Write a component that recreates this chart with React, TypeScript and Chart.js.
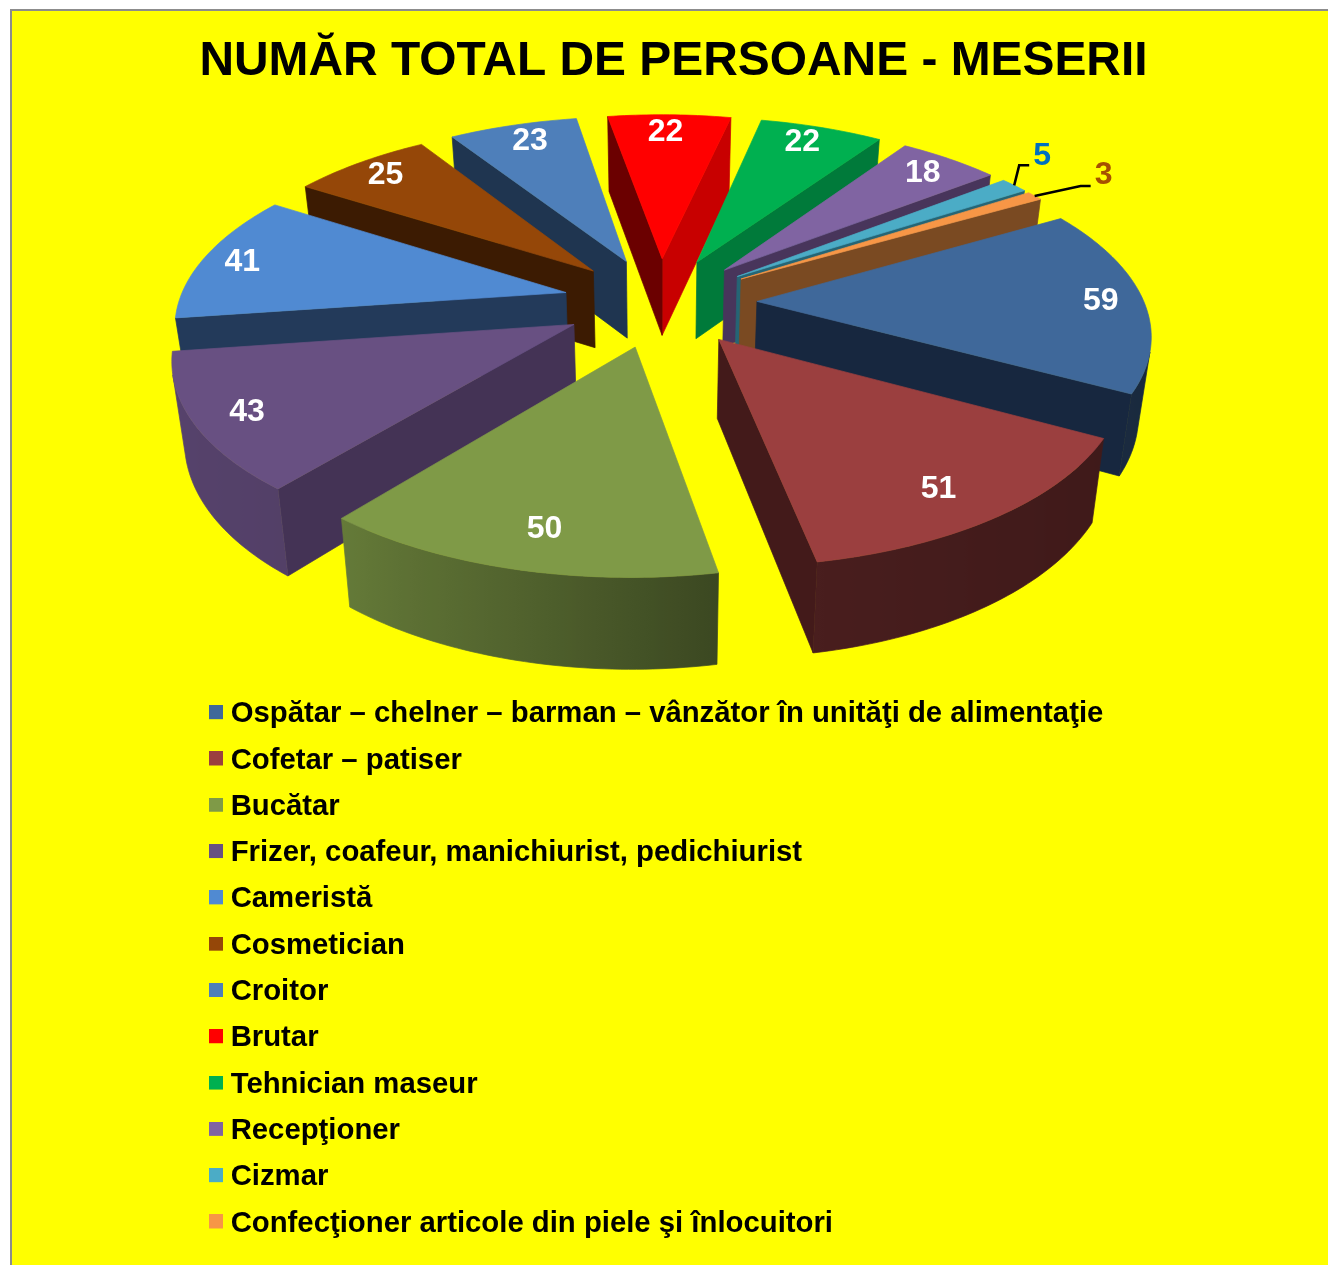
import React, { useEffect, useRef } from "react";
import { Chart, registerables } from "chart.js";

Chart.register(...registerables);

const categories = [
  "Ospătar – chelner – barman – vânzător în unităţi de alimentaţie",
  "Cofetar – patiser",
  "Bucătar",
  "Frizer, coafeur, manichiurist, pedichiurist",
  "Cameristă",
  "Cosmetician",
  "Croitor",
  "Brutar",
  "Tehnician maseur",
  "Recepţioner",
  "Cizmar",
  "Confecţioner articole din piele şi înlocuitori",
];
const values = [59, 51, 50, 43, 41, 25, 23, 22, 22, 18, 5, 3];
const topColors = ["#3F689A", "#9B3F3F", "#7F9A47", "#685082", "#508AD2", "#954708", "#4E7FBA", "#FF0000", "#00B050", "#8064A2", "#4BACC6", "#F79646"];
const startWallColors = ["#17273F", "#431A1A", "#404D25", "#443355", "#233A5A", "#3C1B02", "#1F3550", "#6B0000", "#007A3A", "#48355B", "#256575", "#7A4A22"];
const endWallColors = ["#17273F", "#431A1A", "#404D25", "#443355", "#233A5A", "#3C1B02", "#1F3550", "#C80000", "#007A3A", "#48355B", "#256575", "#7A4A22"];
const labelColors = ["#fff", "#fff", "#fff", "#fff", "#fff", "#fff", "#fff", "#fff", "#fff", "#fff", "#0070C0", "#A65000"];
const labelNudgeX = [8, -18, 13, 0, -9, -2, 4, -3, -5, 0, 0, 0];
const labelNudgeY = [2, -2, -6, 2, 1, 0, 0, 1, -1, 1, 0, 0];
const TITLE = "NUMĂR TOTAL DE PERSOANE - MESERII";

// scene geometry of the tilted, exploded pie
const EXPLODE = 97;
const TILT = 0.462;
const PERSPECTIVE = 0.000402;
const FOOT_SCALE = 0.974;
const LABEL_RADIUS = 0.87;
const FONT = "'Liberation Sans', Arial, sans-serif";

const SHADE_STOPS: [number, number][] = [
  [0, 0.38],
  [55, 0.43],
  [80, 0.47],
  [105, 0.65],
  [130, 0.8],
  [180, 0.85],
];

function depthAt(f: number) {
  return f > 1 ? 77 + 62 * (f - 1) : 77 + 13 * (f - 1);
}

function shadeAt(angleRad: number) {
  let d = Math.abs((angleRad * 180) / Math.PI) % 360;
  if (d > 180) d = 360 - d;
  for (let i = 1; i < SHADE_STOPS.length; i++) {
    const [a, s] = SHADE_STOPS[i - 1];
    const [b, t] = SHADE_STOPS[i];
    if (d <= b) return s + ((t - s) * (d - a)) / (b - a);
  }
  return 0.85;
}

function shadeColor(hex: string, k: number) {
  const n = parseInt(hex.slice(1), 16);
  const c = (v: number) => Math.round(v * k);
  return `rgb(${c((n >> 16) & 255)},${c((n >> 8) & 255)},${c(n & 255)})`;
}

function area(p: { x: number; y: number }[]) {
  let s = 0;
  p.forEach((a, i) => {
    const b = p[(i + 1) % p.length];
    s += a.x * b.y - b.x * a.y;
  });
  return s;
}

function fillPoly(ctx: CanvasRenderingContext2D, p: { x: number; y: number }[], color: any) {
  ctx.beginPath();
  p.forEach((a, i) => (i ? ctx.lineTo(a.x, a.y) : ctx.moveTo(a.x, a.y)));
  ctx.closePath();
  ctx.fillStyle = color;
  ctx.strokeStyle = color;
  ctx.lineWidth = 0.7;
  ctx.fill();
  ctx.stroke();
}

const pie3d = {
  id: "pie3d",
  beforeDraw(chart: any) {
    const { ctx, width, height } = chart;
    ctx.save();
    ctx.fillStyle = "#fff";
    ctx.fillRect(0, 0, width, height);
    ctx.fillStyle = "#8C8C8C";
    ctx.fillRect(10, 9, width - 10, height - 9);
    ctx.fillStyle = "#FFFF00";
    ctx.fillRect(12, 11, width - 12, height - 11);
    ctx.restore();
    const t = chart.titleBlock;
    t.left = 19;
    t.right = width;
    const l = chart.legend;
    l.left = 216 - l.options.labels.padding;
    l.right = width;
    l.top = 699.5 - l.options.labels.padding;
    l.bottom = height;
  },
  beforeDatasetsDraw(chart: any) {
    const { ctx } = chart;
    const arcs = chart.getDatasetMeta(0).data;
    const cx = arcs[0].x;
    const cy = arcs[0].y;
    const project = (X: number, Y: number) => {
      const f = 1 / (1 - PERSPECTIVE * Y);
      return { x: cx + X * f, y: cy + Y * TILT * f, f };
    };
    const foot = (p: any) => ({ x: cx + (p.x - cx) * FOOT_SCALE, y: p.y + depthAt(p.f) });
    const slices = arcs.map((arc: any, index: number) => {
      const mid = (arc.startAngle + arc.endAngle) / 2;
      return {
        arc,
        index,
        mid,
        ox: EXPLODE * Math.cos(mid),
        oy: EXPLODE * Math.sin(mid),
        depthKey: (EXPLODE + arc.outerRadius * 0.5) * Math.sin(mid),
      };
    });
    const order = [...slices].sort((a, b) => a.depthKey - b.depthKey);
    ctx.save();
    for (const s of order) {
      const { arc, index, ox, oy } = s;
      const R = arc.outerRadius;
      const steps = Math.max(2, Math.ceil(((arc.endAngle - arc.startAngle) * 180) / Math.PI));
      const rim: any[] = [];
      const angles: number[] = [];
      for (let i = 0; i <= steps; i++) {
        const a = arc.startAngle + ((arc.endAngle - arc.startAngle) * i) / steps;
        angles.push(a);
        rim.push(project(ox + R * Math.cos(a), oy + R * Math.sin(a)));
      }
      const tip = project(ox, oy);
      const first = rim[0];
      const last = rim[rim.length - 1];
      // radial faces
      const endFace = [tip, last, foot(last), foot(tip)];
      if (area(endFace) > 0) fillPoly(ctx, endFace, endWallColors[index]);
      const startFace = [tip, first, foot(first), foot(tip)];
      if (area(startFace) < 0) fillPoly(ctx, startFace, startWallColors[index]);
      // curved outer face: one polygon with a horizontal shade gradient
      const visible: number[] = [];
      for (let i = 0; i < steps; i++) {
        if (area([rim[i], rim[i + 1], foot(rim[i + 1]), foot(rim[i])]) < 0) visible.push(i);
      }
      if (visible.length) {
        const a0 = visible[0];
        const a1 = visible[visible.length - 1] + 1;
        const topEdge = rim.slice(a0, a1 + 1);
        const botEdge = topEdge.map(foot).reverse();
        const xs = topEdge.map((p: any) => p.x);
        const minX = Math.min(...xs);
        const maxX = Math.max(...xs);
        const grad = ctx.createLinearGradient(minX, 0, maxX + 0.01, 0);
        topEdge.forEach((p: any, i: number) => {
          const ang = angles[a0 + i];
          grad.addColorStop((p.x - minX) / (maxX + 0.01 - minX), shadeColor(topColors[index], shadeAt(ang)));
        });
        fillPoly(ctx, [...topEdge, ...botEdge], grad);
      }
      // top face
      fillPoly(ctx, [tip, ...rim], arc.options.backgroundColor);
    }
    // values
    ctx.textAlign = "center";
    ctx.textBaseline = "middle";
    ctx.font = `bold 32px ${FONT}`;
    for (const s of slices) {
      const { arc, index, ox, oy, mid } = s;
      const R = arc.outerRadius;
      const v = chart.data.datasets[0].data[index];
      const rimMid = project(ox + R * Math.cos(mid), oy + R * Math.sin(mid));
      let lx: number;
      let ly: number;
      if (index >= 10) {
        const path =
          index === 10
            ? [rimMid, { x: rimMid.x + 5, y: rimMid.y - 20 }, { x: rimMid.x + 15, y: rimMid.y - 20 }]
            : [rimMid, { x: rimMid.x + 46, y: rimMid.y - 10 }, { x: rimMid.x + 56, y: rimMid.y - 10 }];
        ctx.beginPath();
        path.forEach((p: any, i: number) => (i ? ctx.lineTo(p.x, p.y) : ctx.moveTo(p.x, p.y)));
        ctx.strokeStyle = "#000";
        ctx.lineWidth = 2.5;
        ctx.stroke();
        lx = path[2].x + 13;
        ly = path[2].y + (index === 10 ? -9 : -11);
      } else {
        const r = R * LABEL_RADIUS;
        const p = project(ox + r * Math.cos(mid), oy + r * Math.sin(mid));
        lx = p.x + labelNudgeX[index];
        ly = p.y + labelNudgeY[index];
      }
      ctx.fillStyle = labelColors[index];
      ctx.fillText(String(v), lx, ly);
    }
    ctx.restore();
    return false;
  },
};

function swatch(color: string) {
  const c = document.createElement("canvas");
  c.width = 14;
  c.height = 18;
  const g = c.getContext("2d")!;
  g.fillStyle = color;
  g.fillRect(0, 0, 14, 14);
  return c;
}

export default function App() {
  const ref = useRef<HTMLCanvasElement>(null);
  useEffect(() => {
    const chart = new Chart(ref.current!, {
      type: "pie",
      data: {
        labels: categories,
        datasets: [{ data: values, backgroundColor: topColors, borderWidth: 0, hoverOffset: 0 }],
      },
      plugins: [pie3d],
      options: {
        animation: false,
        responsive: false,
        rotation: 60,
        radius: 387,
        layout: { padding: { top: 0, left: 0, right: 8, bottom: 757.6 } },
        plugins: {
          tooltip: { enabled: false },
          title: {
            display: true,
            text: TITLE,
            color: "#000",
            font: { family: FONT, size: 47.9, weight: "bold" },
            padding: { top: 33, bottom: 6 },
          },
          legend: {
            display: true,
            position: "chartArea",
            align: "start",
            labels: {
              color: "#000",
              font: { family: FONT, size: 29.3, weight: "bold" },
              usePointStyle: true,
              pointStyleWidth: 0.01,
              boxHeight: 14,
              padding: 17,
              generateLabels: (c: any) =>
                c.data.labels.map((text: string, i: number) => ({
                  text,
                  index: i,
                  hidden: false,
                  fillStyle: topColors[i],
                  strokeStyle: topColors[i],
                  lineWidth: 0,
                  fontColor: "#000",
                  pointStyle: swatch(topColors[i]),
                })),
            },
          },
        },
      } as any,
    });
    return () => chart.destroy();
  }, []);
  return (
    <canvas
      ref={ref}
      width={1328}
      height={1265}
      style={{ position: "absolute", left: 0, top: 0, display: "block", width: 1328, height: 1265 }}
    />
  );
}
